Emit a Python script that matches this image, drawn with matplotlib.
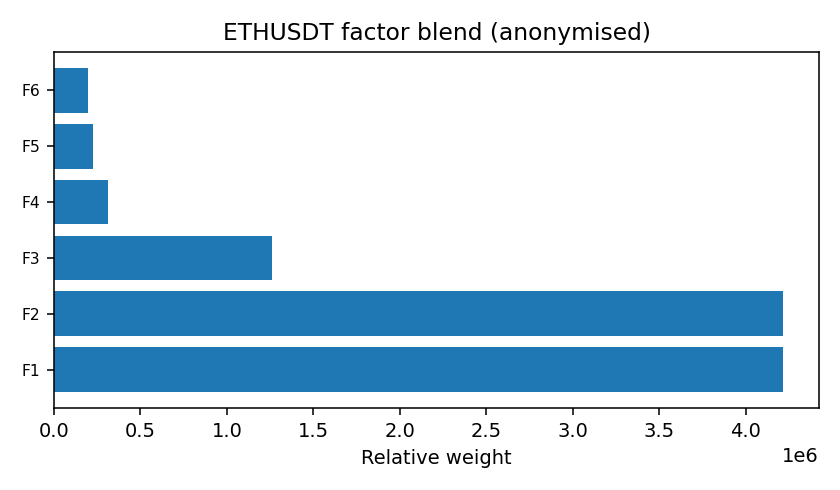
import matplotlib
matplotlib.use('Agg')
import matplotlib.pyplot as plt

factors = ["F1", "F2", "F3", "F4", "F5", "F6"]
weights = [4.214e6, 4.214e6, 1.262e6, 0.312e6, 0.224e6, 0.195e6]

fig, ax = plt.subplots(figsize=(6, 3.5), dpi=140)
ax.barh(factors, weights, color="#1f77b4")
ax.set_title("ETHUSDT factor blend (anonymised)")
ax.set_xlabel("Relative weight")
ax.tick_params(axis="y", labelsize=8)

fig.subplots_adjust(left=0.0643, right=0.975, top=0.894, bottom=0.167)
fig.savefig("out.png")
